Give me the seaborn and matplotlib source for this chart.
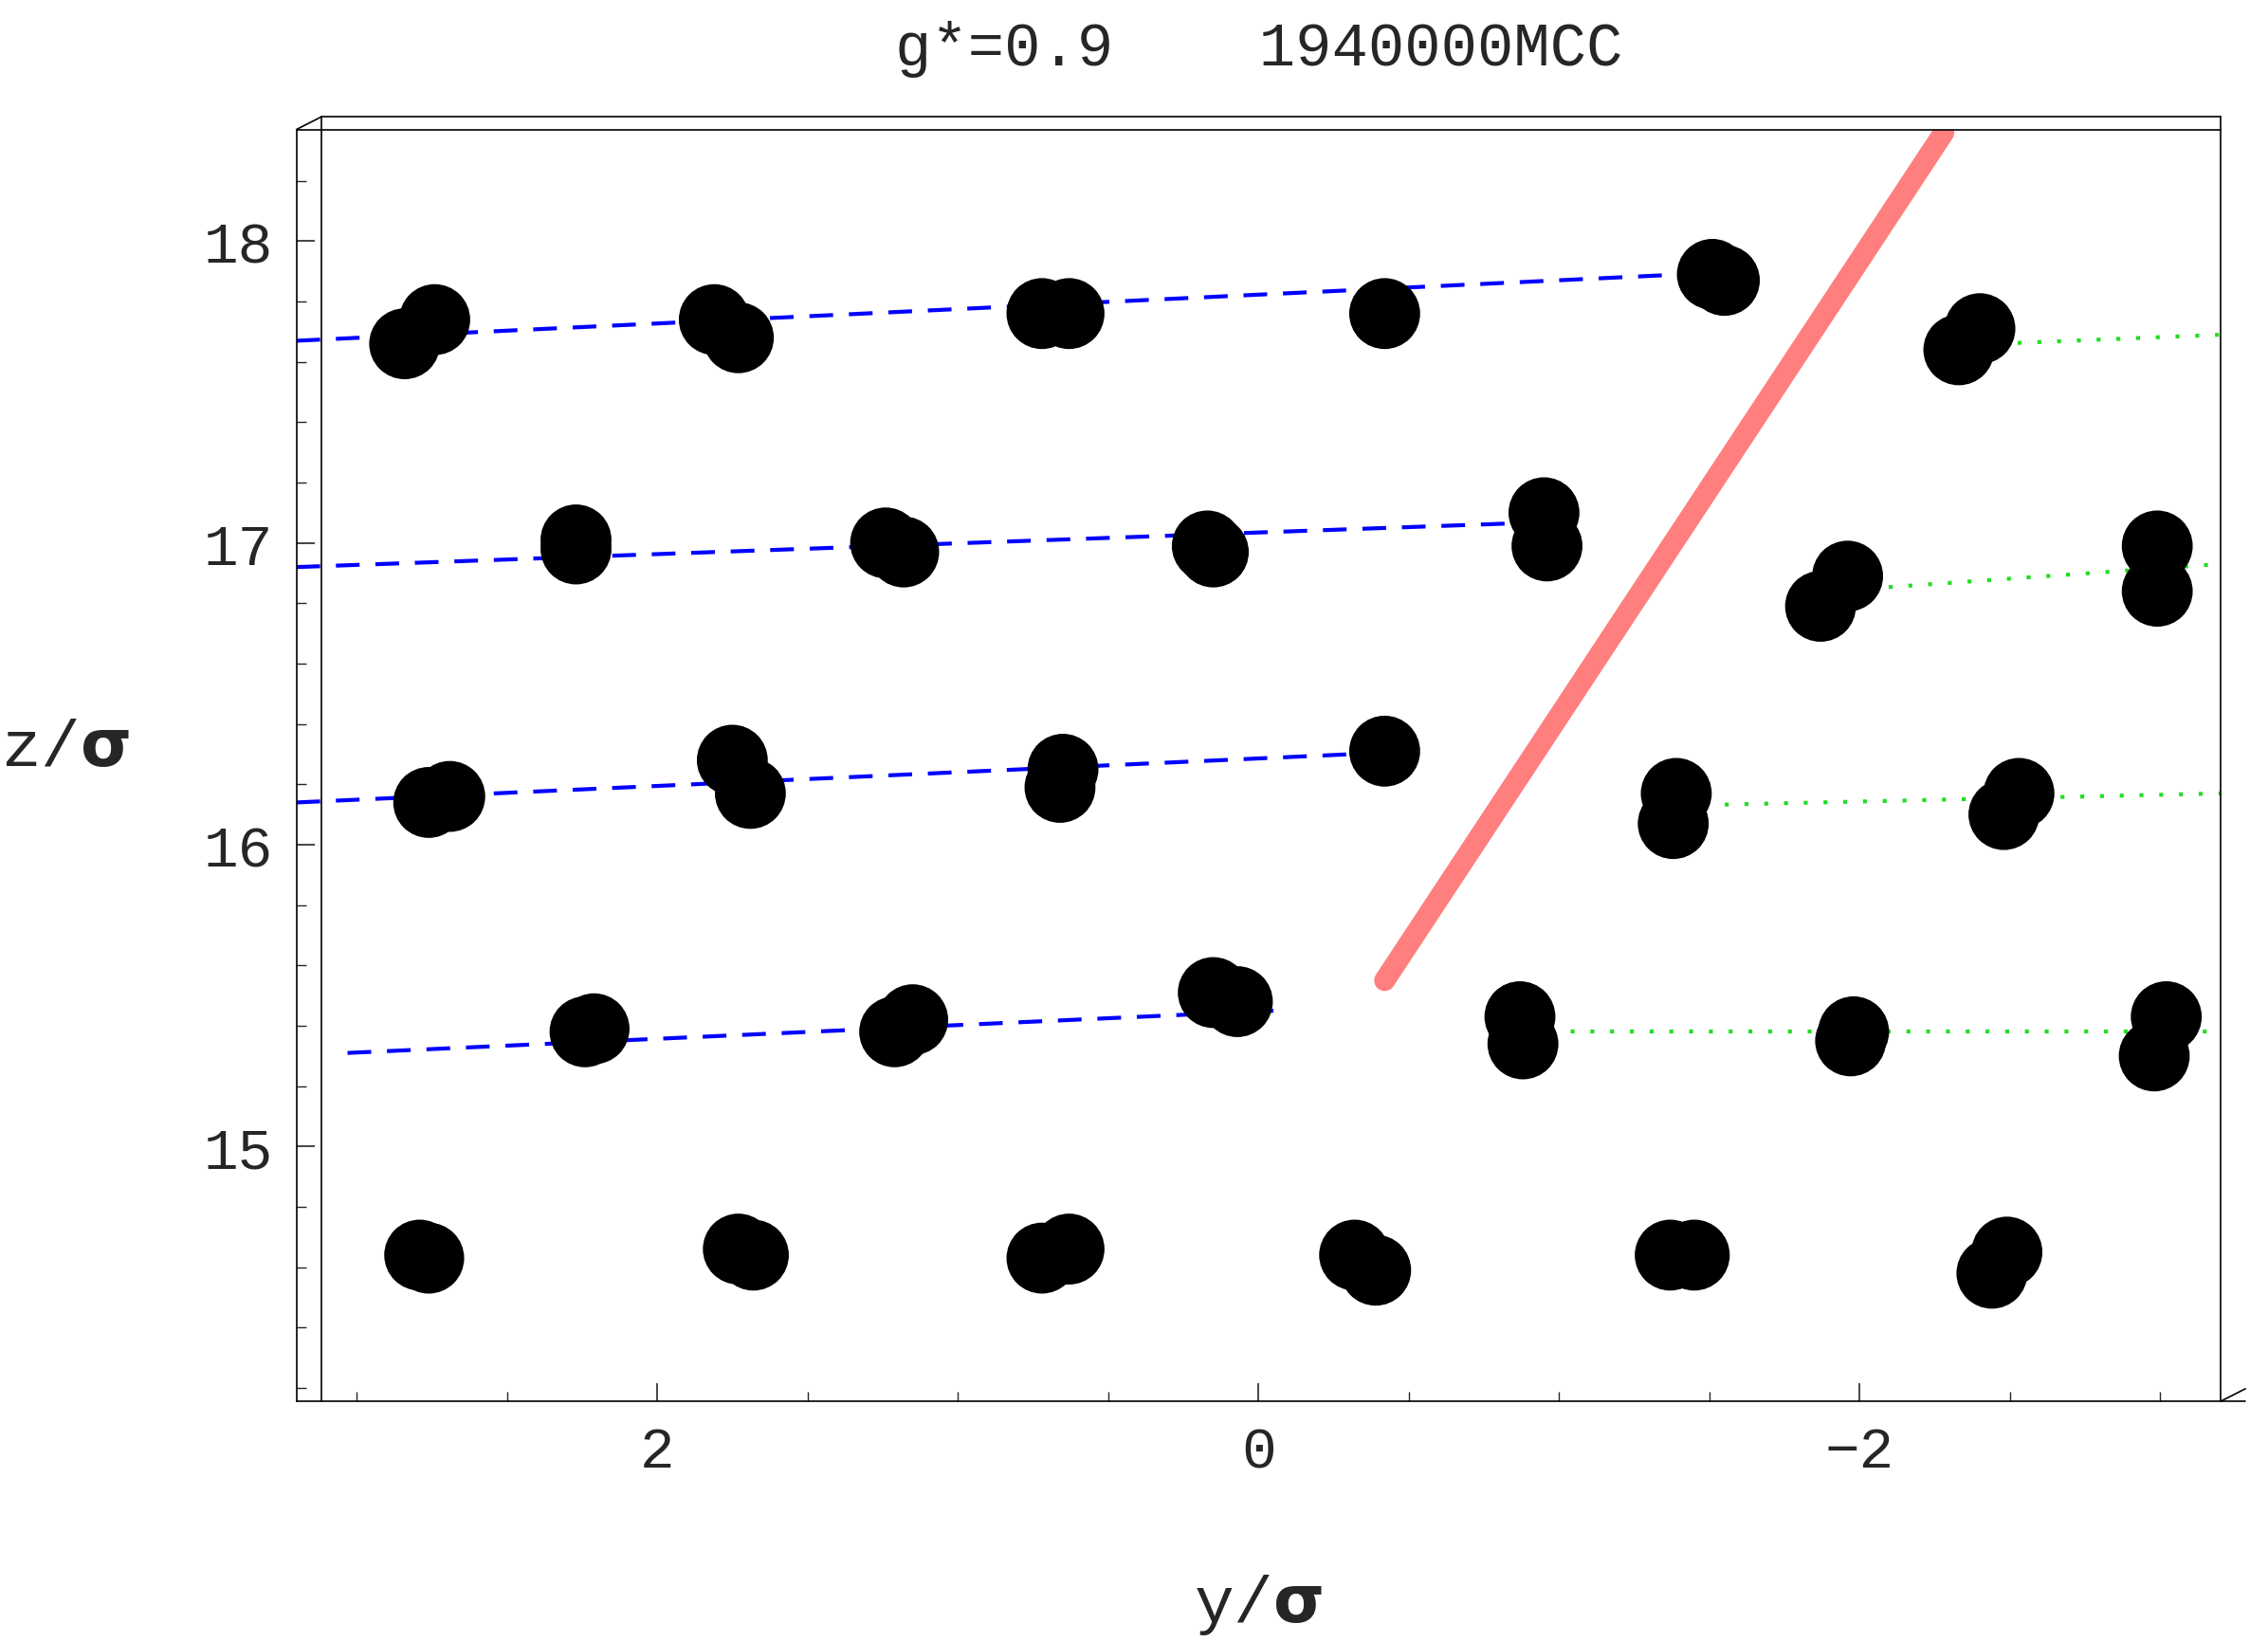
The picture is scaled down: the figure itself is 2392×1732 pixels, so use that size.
import numpy as np
import pandas as pd
import matplotlib
matplotlib.use("Agg")
import matplotlib.pyplot as plt
import seaborn as sns

# particle positions (y/sigma, z/sigma)
dots_y = [2.84, 2.74, 1.81, 1.73, 0.72, 0.63, -0.42, -1.51, -1.55, -2.33, -2.40,
          2.27, 2.27, 1.24, 1.18, 0.17, 0.15, -0.95, -0.96, -1.87, -1.96, -2.99, -2.99,
          2.76, 2.69, 1.75, 1.69, 0.65, 0.66, -0.42, -1.39, -1.38, -2.48, -2.53,
          2.24, 2.21, 1.21, 1.15, 0.15, 0.07, -0.87, -0.88, -1.97, -1.98, -2.98, -3.02,
          2.79, 2.76, 1.73, 1.68, 0.72, 0.63, -0.32, -0.39, -1.37, -1.45, -2.44, -2.49]
dots_z = [17.66, 17.74, 17.74, 17.68, 17.76, 17.76, 17.76, 17.89, 17.87, 17.64, 17.71,
          16.98, 17.01, 17.00, 16.97, 16.99, 16.97, 17.10, 16.99, 16.79, 16.89, 16.99, 16.84,
          16.14, 16.16, 16.28, 16.17, 16.25, 16.19, 16.31, 16.17, 16.07, 16.10, 16.17,
          15.38, 15.39, 15.38, 15.42, 15.51, 15.48, 15.43, 15.34, 15.35, 15.38, 15.30, 15.43,
          14.64, 14.63, 14.66, 14.64, 14.63, 14.66, 14.64, 14.59, 14.64, 14.64, 14.58, 14.65]

# fitted layer lines (start/end points)
blue_lines = [([3.2, -1.41], [17.67, 17.89]),
              ([3.2, -0.99], [16.92, 17.07]),
              ([3.2, -0.53], [16.14, 16.31]),
              ([3.03, -0.05], [15.31, 15.45])]
green_lines = [([-2.46, -3.2], [17.66, 17.69]),
               ([-1.90, -3.2], [16.84, 16.93]),
               ([-1.42, -3.2], [16.13, 16.17]),
               ([-0.84, -3.2], [15.38, 15.38])]
red_line = ([-0.42, -2.28], [15.55, 18.36])

sns.set_style("white")
plt.rcParams['font.family'] = ['Liberation Mono', 'DejaVu Sans']

fig = plt.figure(figsize=(23.92, 17.33), dpi=100)
ax = fig.add_axes([0.1307, 0.1464, 0.8483, 0.7742])

for xs, zs in blue_lines:
    sns.lineplot(x=xs, y=zs, ax=ax, color='blue', lw=3, linestyle=(0, (6, 4)), sort=False)
for xs, zs in green_lines:
    sns.lineplot(x=xs, y=zs, ax=ax, color='#22dd22', lw=3, linestyle=(0, (1, 4)), sort=False)
sns.lineplot(x=red_line[0], y=red_line[1], ax=ax, color='#ff7f7f', lw=16,
             solid_capstyle='round', sort=False)
sns.scatterplot(x=dots_y, y=dots_z, ax=ax, color='black', s=2900, edgecolor='none', zorder=5)

ax.set_xlim(3.2, -3.2)
ax.set_ylim(14.155, 18.37)
ax.set_xticks([2, 0, -2])
ax.set_xticklabels(['2', '0', '\u22122'])
ax.set_yticks([15, 16, 17, 18])
ax.set_xticks(np.arange(-3, 3.01, 0.5), minor=True)
ax.set_yticks(np.arange(14.2, 18.31, 0.2), minor=True)
ax.tick_params(which='both', bottom=True, left=True, top=False, right=False)
ax.tick_params(which='major', direction='in', length=14, width=1.2, labelsize=44, pad=18)
ax.tick_params(which='minor', direction='in', length=7, width=1.0)
for s in ax.spines.values():
    s.set_linewidth(1.2)
    s.set_color('black')

# pseudo-3D box edges
for (x0, y0, x1, y1) in [(0.013, 0.0, 0.013, 1.01), (0.013, 1.01, 1.0, 1.01),
                         (0.0, 1.0, 0.013, 1.01), (1.0, 1.0, 1.0, 1.01),
                         (1.0, 0.0, 1.013, 0.0), (1.0, 0.0, 1.013, 0.01)]:
    ax.plot([x0, x1], [y0, y1], transform=ax.transAxes, color='black', lw=1.2, clip_on=False)

ax.set_xlabel('y/$\\mathbf{\\sigma}$', fontsize=50, labelpad=70)
ax.set_ylabel('z/$\\mathbf{\\sigma}$', fontsize=50, rotation=0)
ax.yaxis.set_label_coords(-0.12, 0.49)
fig.text(0.555, 0.97, 'g*=0.9    1940000MCC', fontsize=46, ha='center', va='center')

fig.savefig('out.png', dpi=100)
